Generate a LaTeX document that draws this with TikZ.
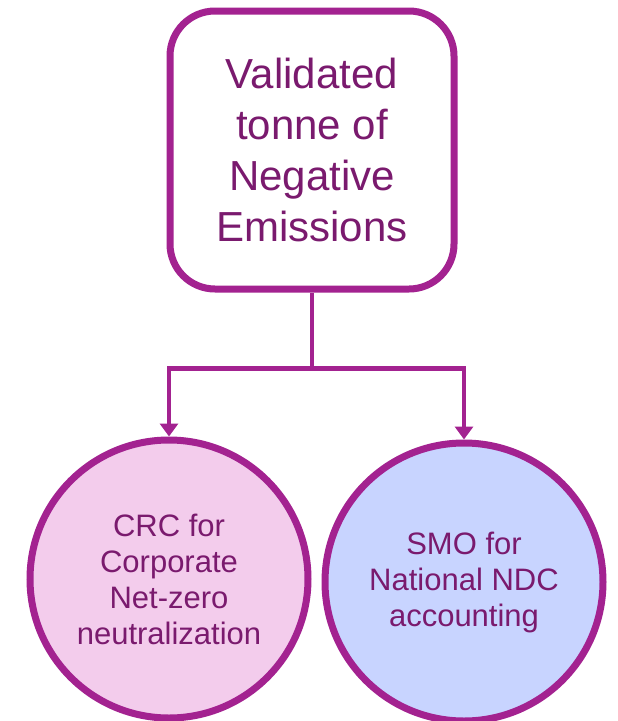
\documentclass[tikz,border=0pt]{standalone}
\usepackage{fontspec}
\setmainfont{Liberation Sans}
\usetikzlibrary{arrows.meta}
\definecolor{frame}{RGB}{163,34,144}
\definecolor{txt}{RGB}{122,26,110}
\definecolor{pinkfill}{RGB}{243,204,236}
\definecolor{bluefill}{RGB}{200,212,255}
\begin{document}
\begin{tikzpicture}[x=1pt,y=1pt,
  topbox/.style={draw=frame,line width=7pt,rounded corners=45pt,fill=white,
    minimum width=284pt,minimum height=278pt,align=center,text=txt,
    font=\fontsize{42}{51}\selectfont},
  roundnode/.style={circle,draw=frame,line width=7pt,minimum size=278pt,
    align=center,text=txt,font=\fontsize{31}{36}\selectfont,inner sep=0pt},
  conn/.style={draw=frame,line width=4.5pt},
  arr/.style={conn,-{Triangle[width=18pt,length=13pt]}}]
\useasboundingbox (0,0) rectangle (618,-721);
\fill[white] (0,0) rectangle (618,-721);
\node[topbox] (top) at (312,-150) {Validated\\tonne of\\Negative\\Emissions};
\node[roundnode,fill=pinkfill] (crc) at (169,-579) {CRC for\\Corporate\\Net-zero\\neutralization};
\node[roundnode,fill=bluefill] (smo) at (464,-582) {SMO for\\National NDC\\accounting};
\draw[conn] (top.south) -- ++(0,-76) coordinate (j);
\draw[arr] (j) -| (crc.north);
\draw[arr] (j) -| (smo.north);
\end{tikzpicture}
\end{document}
